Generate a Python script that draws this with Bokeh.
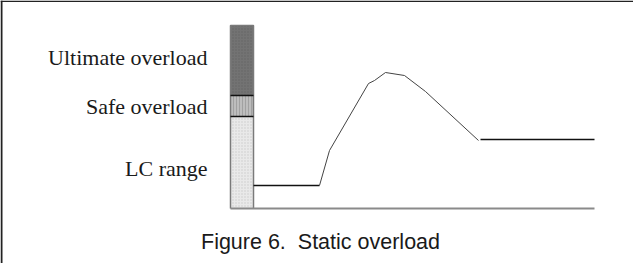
from bokeh.plotting import figure
from bokeh.models import Range1d, ColumnDataSource, Span, Label
from bokeh.core.properties import value
from bokeh.embed import file_html
from bokeh.resources import INLINE

# Bar segments (vertical load scale), bottom/top levels
seg_names = ["LC range", "Safe overload", "Ultimate overload"]
seg_bottom = [55, 147, 168]
seg_top = [147, 168, 238]
seg_fill = ["#e9e9e9", "#bdbdbd", "#737373"]
seg_hatch = ["dot", "vertical_line", "dot"]
seg_hatch_color = ["#c4c4c4", "#9a9a9a", "#606060"]
bar_left, bar_right = 230, 253

# Label baselines
label_y = [95, 157, 206]

# Load history curve
flat1_x = [253, 319]
flat1_y = [78, 78]
curve_x = [319, 329, 368, 374, 385, 404, 425, 478]
curve_y = [78, 113, 180, 183, 191, 188, 172, 123]
flat2_x = [480, 594]
flat2_y = [124, 124]

# Time axis
axis_x = [230, 594]
axis_y = [55, 55]

caption = "Figure 6.\u00a0 Static overload"

W, H = 633, 263
p = figure(width=W, height=H, output_backend="svg", toolbar_location=None,
           x_range=Range1d(0, W), y_range=Range1d(0, H),
           min_border=0, outline_line_color=None)
p.axis.visible = False
p.grid.visible = False
p.background_fill_color = "white"

# frame (left and top only, as in the cropped reference)
p.add_layout(Span(location=1, dimension="height", line_color="#222222", line_width=2))
p.add_layout(Span(location=H - 0.75, dimension="width", line_color="#222222", line_width=1.5))

# bar segments
src = ColumnDataSource(dict(bottom=seg_bottom, top=seg_top, fill=seg_fill,
                            hatch=seg_hatch, hcol=seg_hatch_color))
p.quad(left=bar_left, right=bar_right, bottom="bottom", top="top", source=src,
       fill_color="fill", hatch_pattern="hatch", hatch_color="hcol",
       hatch_scale=3, hatch_weight=1, hatch_alpha=0.8,
       line_color=None)
# outline of bar
p.line([bar_left, bar_left, bar_right, bar_right],
       [seg_bottom[0], seg_top[-1], seg_top[-1], seg_bottom[0]],
       line_color="#7a7a7a", line_width=1.5)
# dividers
for yv in seg_top[:-1]:
    p.line([bar_left, bar_right], [yv, yv], line_color="#111111", line_width=1.5)

# time axis
p.line(axis_x, axis_y, line_color="#8a8a8a", line_width=2)

# load history
p.line(flat1_x, flat1_y, line_color="#111111", line_width=1.5)
p.line(curve_x, curve_y, line_color="#444444", line_width=1)
p.line(flat2_x, flat2_y, line_color="#111111", line_width=1.5)

# labels
lsrc = ColumnDataSource(dict(x=[207] * 3, y=label_y, t=seg_names))
p.text(x="x", y="y", text="t", source=lsrc, text_align="right",
       text_baseline="alphabetic", text_font=value("Liberation Serif"),
       text_font_size="22px", text_color="#1a1a1a")

p.add_layout(Label(x=320, y=22, text=caption, text_align="center",
                   text_baseline="alphabetic", text_font="Liberation Sans",
                   text_font_size="21.5px", text_color="#1a1a1a"))

open("out.html", "w").write(file_html(p, INLINE))
